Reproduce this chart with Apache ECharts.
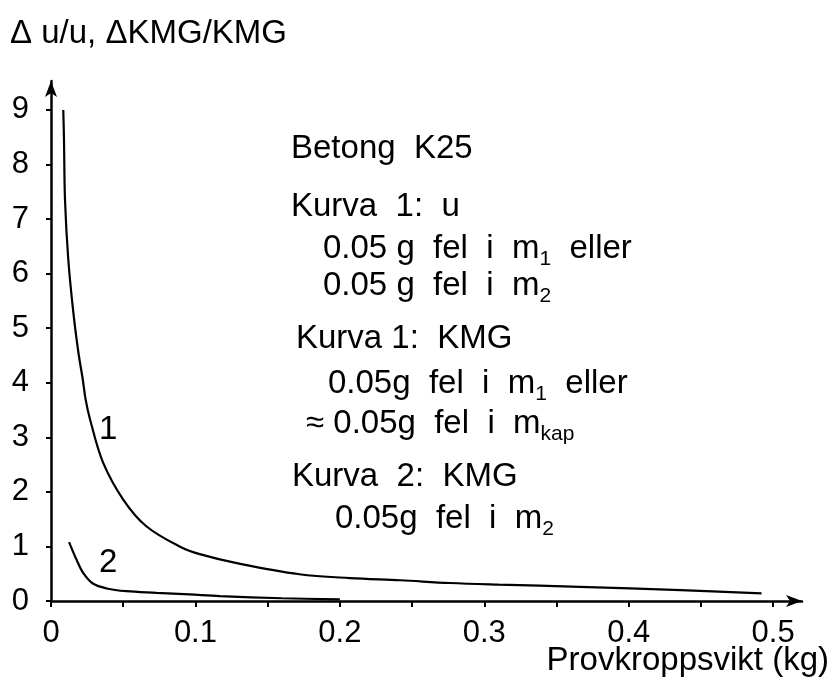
<!DOCTYPE html>
<html>
<head>
<meta charset="utf-8">
<script src="https://cdn.jsdelivr.net/npm/echarts@6/dist/echarts.min.js"></script>
<style>html,body{margin:0;padding:0;background:#fff;}#c{width:835px;height:686px;}</style>
</head>
<body>
<div id="c"></div>
<script>
// Curve 1 (Kurva 1)
var curve1X = [0.0085,0.009,0.0097,0.012,0.0155,0.019,0.022,0.024,0.027,0.036,0.05,0.066,0.089,0.103,0.131,0.172,0.207,0.242,0.276,0.31,0.366,0.436,0.492];
var curve1Y = [9.0,8.45,7.35,6.25,5.28,4.55,4.06,3.69,3.33,2.54,1.86,1.37,1.0,0.86,0.68,0.49,0.42,0.38,0.33,0.30,0.26,0.20,0.14];
// Curve 2 (Kurva 2)
var curve2X = [0.0125,0.0178,0.0224,0.029,0.0386,0.052,0.073,0.096,0.117,0.16,0.2];
var curve2Y = [1.08,0.75,0.51,0.32,0.23,0.18,0.15,0.12,0.09,0.05,0.03];
// Ticks
var xTickValues = [0,0.05,0.1,0.15,0.2,0.25,0.3,0.35,0.4,0.45,0.5];
var xLabelValues = [0,0.1,0.2,0.3,0.4,0.5];
var yValues = [0,1,2,3,4,5,6,7,8,9];

var FONT = "'Liberation Sans','Arial',sans-serif";

function pairs(xs, ys){ return xs.map(function(x,i){ return [x, ys[i]]; }); }

var chart = echarts.init(document.getElementById('c'), null, {renderer:'canvas'});

var subRich = {
  sub: {fontSize: 21, fontFamily: FONT, color:'#000', verticalAlign:'top', padding:[22,0,0,0]}
};
function t(x, y, text){
  return {type:'text', left:x, top:y, style:{text:text, font:'33px '+FONT, fill:'#000', rich:subRich}};
}

var option = {
  animation: false,
  backgroundColor: '#fff',
  grid: {left: 51, right: 33, top: 81, bottom: 85, containLabel:false},
  xAxis: {
    type:'value', min:0, max:0.52,
    axisLine:{show:true, lineStyle:{color:'#000', width:2.5}, symbol:['none','arrow'], symbolSize:[9,16]},
    axisTick:{show:true, customValues: xTickValues, length:6, inside:false, lineStyle:{color:'#000', width:2}},
    axisLabel:{show:true, customValues: xLabelValues, margin:17, color:'#000', fontSize:31, fontFamily:FONT,
      formatter:function(v){ return v===0 ? '0' : String(Math.round(v*10)/10); }},
    splitLine:{show:false}
  },
  yAxis: {
    type:'value', min:0, max:9.53,
    axisLine:{show:true, lineStyle:{color:'#000', width:2.5}, symbol:['none','arrow'], symbolSize:[9,16]},
    axisTick:{show:true, customValues: yValues, length:5, inside:false, lineStyle:{color:'#000', width:2}},
    axisLabel:{show:true, customValues: yValues, margin:22, color:'#000', fontSize:31, fontFamily:FONT},
    splitLine:{show:false}
  },
  series: [
    {type:'line', data: pairs(curve1X, curve1Y), smooth:0.35, showSymbol:false,
     lineStyle:{color:'#000', width:2.2}},
    {type:'line', data: pairs(curve2X, curve2Y), smooth:0.35, showSymbol:false,
     lineStyle:{color:'#000', width:2.2}}
  ],
  graphic: [
    t(10, 17, 'Δ u/u, ΔKMG/KMG'),
    t(291, 132, 'Betong  K25'),
    t(291, 190, 'Kurva  1:  u'),
    t(323, 232, '0.05 g  fel  i  m{sub|1}  eller'),
    t(323, 269, '0.05 g  fel  i  m{sub|2}'),
    t(296, 322, 'Kurva 1:  KMG'),
    t(328, 367, '0.05g  fel  i  m{sub|1}  eller'),
    t(306, 407, '≈ 0.05g  fel  i  m{sub|kap}'),
    t(292, 460, 'Kurva  2:  KMG'),
    t(335, 502, '0.05g  fel  i  m{sub|2}'),
    t(99, 413, '1'),
    t(99, 546, '2'),
    {type:'text', right:6, top:644, style:{text:'Provkroppsvikt (kg)', font:'33px '+FONT, fill:'#000'}}
  ]
};
chart.setOption(option);
</script>
</body>
</html>
